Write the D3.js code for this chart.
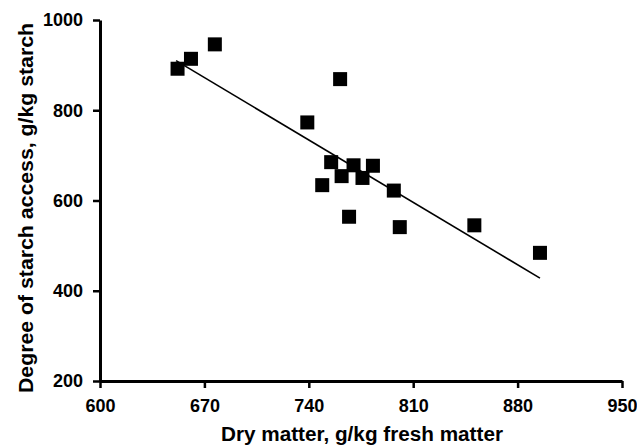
<!DOCTYPE html>
<html>
<head>
<meta charset="utf-8">
<script src="https://cdn.jsdelivr.net/npm/d3@7"></script>
<style>
  body { margin: 0; background: #fff; }
  text { font-family: "Liberation Sans", Arial, sans-serif; font-weight: bold; fill: #000; }
</style>
</head>
<body>
<div id="chart"></div>
<script>
// data
var dryMatter = [652, 661, 677, 739, 761, 755, 749, 762, 770, 776, 783, 767, 797, 801, 851, 895];
var starchAccess = [892, 914, 946, 773, 869, 685, 634, 654, 678, 650, 677, 564, 622, 541, 545, 484];
var fitX = [651, 895];
var fitY = [910, 428];
var xTicks = [600, 670, 740, 810, 880, 950];
var yTicks = [200, 400, 600, 800, 1000];

var W = 637, H = 445;
var margin = {top: 20, right: 15, bottom: 64, left: 100},
    w = W - margin.left - margin.right,
    h = H - margin.top - margin.bottom;

var x = d3.scaleLinear().domain([600, 950]).range([0, w]),
    y = d3.scaleLinear().domain([200, 1000]).range([h, 0]);

var svg = d3.select("#chart").append("svg")
    .attr("width", W)
    .attr("height", H)
  .append("g")
    .attr("transform", "translate(" + margin.left + "," + margin.top + ")");

var fmt = d3.format("d");
var xAxis = d3.axisBottom(x).tickValues(xTicks).tickFormat(fmt).tickSize(7).tickSizeOuter(0).tickPadding(11),
    yAxis = d3.axisLeft(y).tickValues(yTicks).tickFormat(fmt).tickSize(7).tickSizeOuter(0).tickPadding(10);

var gx = svg.append("g")
    .attr("transform", "translate(0," + h + ")")
    .call(xAxis);

var gy = svg.append("g")
    .call(yAxis);

[gx, gy].forEach(function(g) {
  g.select(".domain").attr("stroke", "#000").attr("stroke-width", 3);
  g.selectAll(".tick line").attr("stroke", "#000").attr("stroke-width", 2.5);
  g.selectAll(".tick text").style("font-size", "18px").attr("fill", "#000");
});

// fitted line
svg.append("line")
    .attr("x1", x(fitX[0]))
    .attr("y1", y(fitY[0]))
    .attr("x2", x(fitX[1]))
    .attr("y2", y(fitY[1]))
    .attr("stroke", "#000")
    .attr("stroke-width", 1.6);

var s = 14;
svg.selectAll(".pt")
    .data(dryMatter)
  .enter().append("rect")
    .attr("class", "pt")
    .attr("x", function(d) { return x(d) - s / 2; })
    .attr("y", function(d, i) { return y(starchAccess[i]) - s / 2; })
    .attr("width", s)
    .attr("height", s)
    .attr("fill", "#000");

svg.append("text")
    .attr("text-anchor", "middle")
    .attr("x", 262)
    .attr("y", h + 60)
    .attr("textLength", 282)
    .attr("lengthAdjust", "spacingAndGlyphs")
    .style("font-size", "19.5px")
    .text("Dry matter, g/kg fresh matter");

svg.append("text")
    .attr("text-anchor", "middle")
    .attr("transform", "translate(" + (-67) + "," + 188 + ") rotate(-90)")
    .attr("textLength", 370)
    .attr("lengthAdjust", "spacingAndGlyphs")
    .style("font-size", "19.5px")
    .text("Degree of starch access, g/kg starch");
</script>
</body>
</html>
